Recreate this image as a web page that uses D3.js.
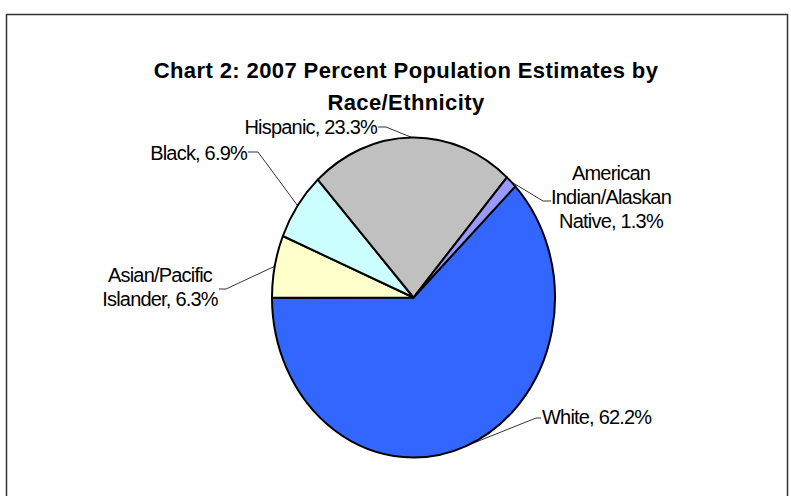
<!DOCTYPE html>
<html>
<head>
<meta charset="utf-8">
<script src="https://cdn.jsdelivr.net/npm/d3@7"></script>
<style>
  body { margin: 0; background: #fff; }
  svg { display: block; }
</style>
</head>
<body>
<script>
// ***************************************
//       DATA
// ***************************************
const categories = ["White", "Asian/Pacific Islander", "Black", "Hispanic", "American Indian/Alaskan Native"];
const percents = [62.2, 6.3, 6.9, 23.3, 1.3];
const titleLines = ["Chart 2: 2007 Percent Population Estimates by", "Race/Ethnicity"];

// ***************************************
//       DIMENSIONS / LAYOUT
// ***************************************
const width = 791;
const height = 496;
const cx = 413.5, cy = 297.5;
const rx = 141.5, ry = 160;
const firstSliceAngle = 46; // degrees, clockwise from 12 o'clock

// where each label sits, and the elbow of its leader line
const labelLayout = {
    "White":                          { x: 542, y: 424, anchor: "start",  breaks: [],     elbow: [536, 418], tip: [541, 418] },
    "Asian/Pacific Islander":         { x: 160, y: 282, anchor: "middle", breaks: [1],    elbow: [226, 289], tip: [219, 289] },
    "Black":                          { x: 247, y: 160, anchor: "end",    breaks: [],     elbow: [258, 152], tip: [248, 152] },
    "Hispanic":                       { x: 377, y: 134, anchor: "end",    breaks: [],     elbow: [386, 127], tip: [378, 127] },
    "American Indian/Alaskan Native": { x: 611, y: 180, anchor: "middle", breaks: [1, 2], elbow: [543, 201], tip: [551, 201] }
};

const color = d3.scaleOrdinal()
    .domain(categories)
    .range(["#3366FF", "#FFFFCC", "#CCFFFF", "#C0C0C0", "#9999FF"]);

const svg = d3.select("body")
    .append("svg")
    .attr("width", width)
    .attr("height", height);

// chart area border (bottom runs off the page)
svg.append("rect")
    .attr("x", 6.5)
    .attr("y", 14.5)
    .attr("width", 781)
    .attr("height", 520)
    .attr("fill", "none")
    .attr("stroke", "#333")
    .attr("stroke-width", 1.5);

// ***************************************
//       TITLE
// ***************************************
svg.append("text")
    .attr("x", 406)
    .attr("text-anchor", "middle")
    .style("font-family", "'Liberation Sans', Arial, sans-serif")
    .style("font-weight", "bold")
    .style("font-size", "22px")
    .style("letter-spacing", "0.4px")
    .selectAll("tspan")
    .data(titleLines)
    .enter()
    .append("tspan")
    .attr("x", 406)
    .attr("y", function(d, i) { return 78 + i * 32; })
    .text(function(d) { return d; });

// ***************************************
//       PIE
// ***************************************
const data = categories.map(function(c, i) { return { name: c, value: percents[i] }; });

const pie = d3.pie()
    .sort(null)
    .value(function(d) { return d.value; })
    .startAngle(firstSliceAngle * Math.PI / 180)
    .endAngle(firstSliceAngle * Math.PI / 180 + 2 * Math.PI);

const arcs = pie(data);

const arc = d3.arc()
    .innerRadius(0)
    .outerRadius(ry);

const pieG = svg.append("g")
    .attr("transform", "translate(" + cx + "," + cy + ") scale(" + (rx / ry) + ",1)");

pieG.selectAll("path")
    .data(arcs)
    .enter()
    .append("path")
    .attr("d", arc)
    .attr("fill", function(d) { return color(d.data.name); })
    .attr("stroke", "#000")
    .attr("stroke-width", 2)
    .attr("stroke-linejoin", "round")
    .attr("vector-effect", "non-scaling-stroke");

// ***************************************
//       LEADER LINES + LABELS
// ***************************************
function edgePoint(d) {
    const a = (d.startAngle + d.endAngle) / 2;
    return [cx + rx * Math.sin(a), cy - ry * Math.cos(a)];
}

svg.selectAll(".leader")
    .data(arcs)
    .enter()
    .append("polyline")
    .classed("leader", true)
    .attr("points", function(d) {
        const L = labelLayout[d.data.name];
        return [edgePoint(d), L.elbow, L.tip].map(function(p) { return p.join(","); }).join(" ");
    })
    .attr("fill", "none")
    .attr("stroke", "#000")
    .attr("stroke-width", 0.8);

function labelLinesFor(d) {
    const words = (d.data.name + ", " + d.data.value + "%").split(" ");
    const breaks = labelLayout[d.data.name].breaks.concat([words.length]);
    const lines = [];
    let start = 0;
    breaks.forEach(function(b) {
        lines.push(words.slice(start, b).join(" "));
        start = b;
    });
    return lines;
}

const labels = svg.selectAll(".label")
    .data(arcs)
    .enter()
    .append("text")
    .classed("label", true)
    .attr("text-anchor", function(d) { return labelLayout[d.data.name].anchor; })
    .style("font-family", "'Liberation Sans', Arial, sans-serif")
    .style("font-size", "20px")
    .style("letter-spacing", "-0.8px")
    .style("fill", "#000");

labels.selectAll("tspan")
    .data(function(d) {
        const L = labelLayout[d.data.name];
        return labelLinesFor(d).map(function(t, i) { return { t: t, x: L.x, y: L.y + i * 24 }; });
    })
    .enter()
    .append("tspan")
    .attr("x", function(d) { return d.x; })
    .attr("y", function(d) { return d.y; })
    .text(function(d) { return d.t; });
</script>
</body>
</html>
